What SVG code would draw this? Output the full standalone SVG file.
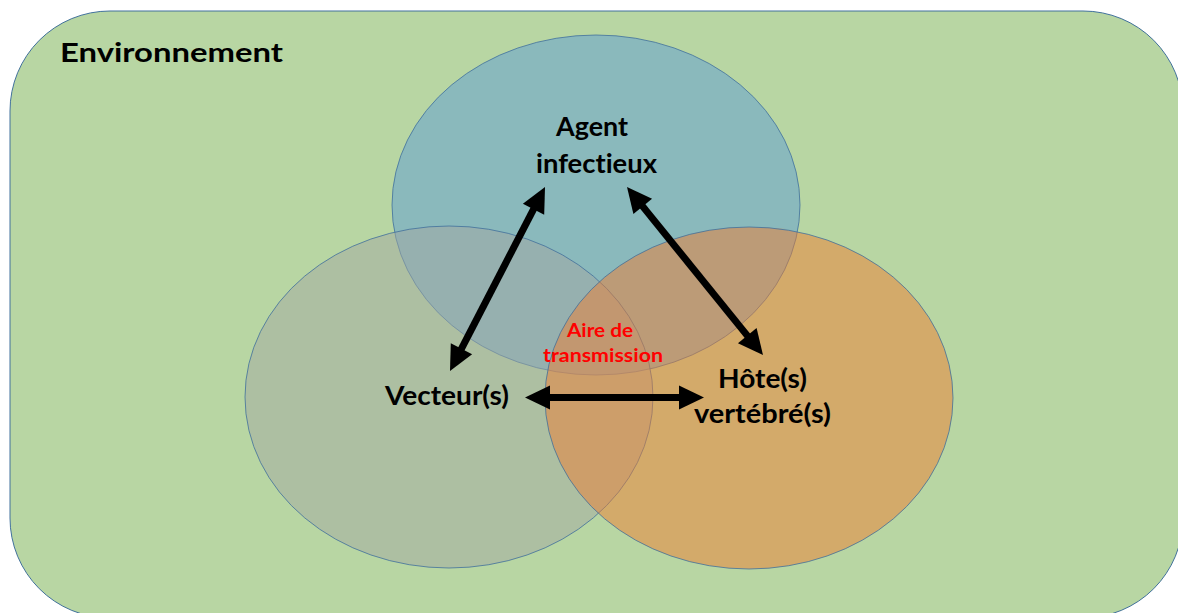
<svg xmlns="http://www.w3.org/2000/svg" width="1178" height="613" viewBox="0 0 1178 613">
  <style>
    .lbl { font-family: Lato, "Open Sans", "Liberation Sans", sans-serif; font-weight: bold; fill: #000000; font-variant-ligatures: none; }
    .red { font-family: Lato, "Open Sans", "Liberation Sans", sans-serif; font-weight: bold; fill: #FF0000; font-variant-ligatures: none; }
    .set { stroke: #41719C; stroke-width: 1; stroke-opacity: 0.8; fill-opacity: 0.5; }
    .arr { stroke: #000000; stroke-width: 7; fill: none; marker-start: url(#head); marker-end: url(#head); }
  </style>
  <defs>
    <marker id="head" viewBox="0 -12 25 24" refX="1" refY="0" markerWidth="25" markerHeight="24" markerUnits="userSpaceOnUse" orient="auto-start-reverse" overflow="visible">
      <path d="M0,-12 L25,0 L0,12 Z" fill="#000000"/>
    </marker>
  </defs>
  <rect width="1178" height="613" fill="#FFFFFF"/>
  <g id="environnement">
    <rect x="10" y="11" width="1173" height="607" rx="100" ry="100" fill="#B8D6A3" stroke="#41719C" stroke-width="1"/>
    <text class="lbl" x="60" y="62" font-size="27.5" textLength="223" lengthAdjust="spacingAndGlyphs">Environnement</text>
  </g>
  <g id="agent">
    <ellipse class="set" cx="596" cy="205" rx="204" ry="170" fill="#5B9BD5"/>
  </g>
  <g id="vecteur">
    <ellipse class="set" cx="449" cy="397" rx="204" ry="171" fill="#A2A7A1"/>
  </g>
  <g id="hote">
    <ellipse class="set" cx="749" cy="398" rx="204" ry="171" fill="#ED7D31"/>
  </g>
  <g id="labels">
    <text class="lbl" x="556" y="136" font-size="27" textLength="72" lengthAdjust="spacingAndGlyphs">Agent</text>
    <text class="lbl" x="536" y="173" font-size="27" textLength="121" lengthAdjust="spacingAndGlyphs">infectieux</text>
    <text class="lbl" x="385" y="405" font-size="27" textLength="124" lengthAdjust="spacingAndGlyphs">Vecteur(s)</text>
    <text class="lbl" x="718" y="388" font-size="27" textLength="89" lengthAdjust="spacingAndGlyphs">Hôte(s)</text>
    <text class="lbl" x="694" y="423" font-size="27" textLength="137" lengthAdjust="spacingAndGlyphs">vertébré(s)</text>
  </g>
  <g id="aire-de-transmission">
    <text class="red" x="567" y="337" font-size="18" textLength="66" lengthAdjust="spacingAndGlyphs">Aire de</text>
    <text class="red" x="543" y="362" font-size="18" textLength="120" lengthAdjust="spacingAndGlyphs">transmission</text>
  </g>
  <g id="connectors">
    <line class="arr" x1="461" y1="349.7" x2="534" y2="208.3"/>
    <line class="arr" x1="642.1" y1="205.6" x2="747.9" y2="336.4"/>
    <line class="arr" x1="549" y1="397.5" x2="680" y2="397.5"/>
  </g>
</svg>
